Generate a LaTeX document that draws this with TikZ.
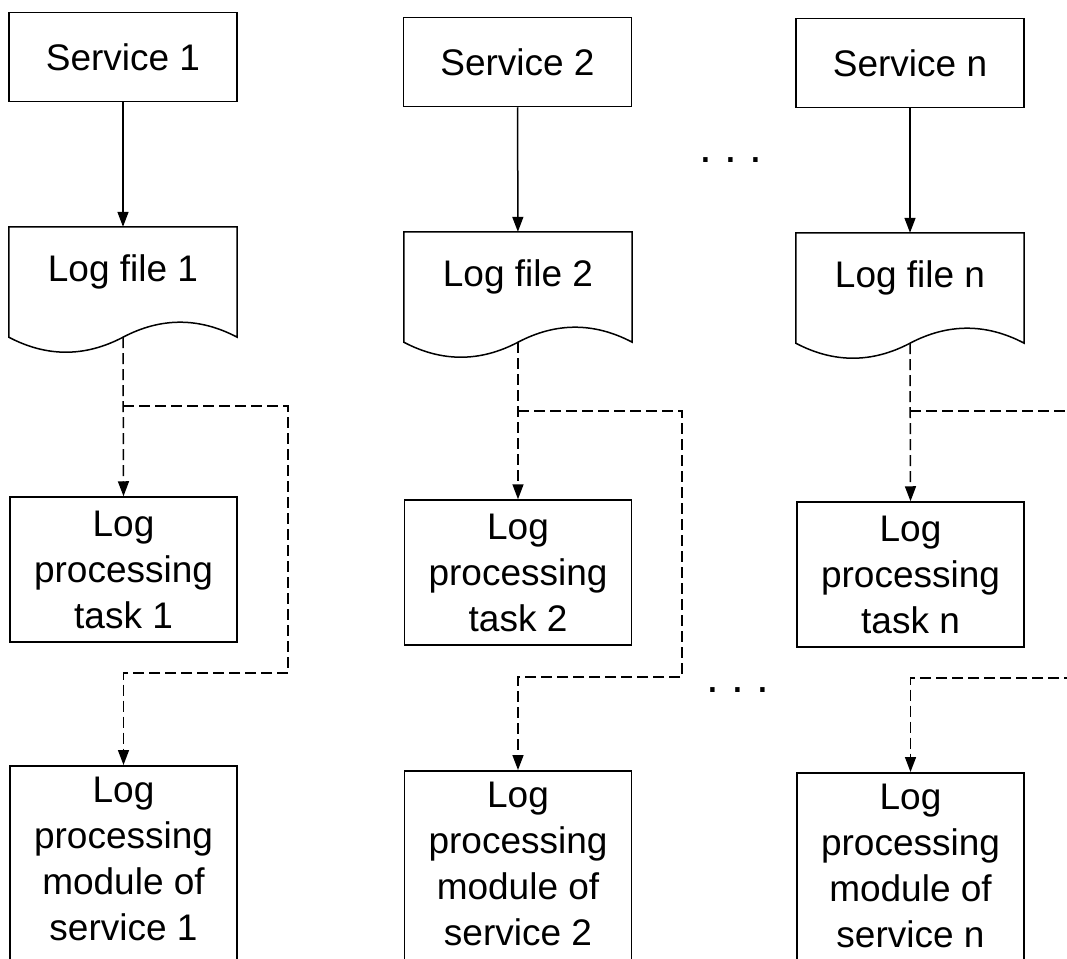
\documentclass[tikz,border=0pt]{standalone}
\usepackage{fontspec}
\setmainfont{Liberation Sans}
\usetikzlibrary{arrows.meta,calc}
\newcommand\docoutline[1]{%
  \draw[line width=1.5pt] (#1.north west) -- (#1.north east) -- (#1.south east)
    .. controls ($(#1.south east)+(-38,-20)$) and ($(#1.south)+(38,-20)$) .. (#1.south)
    .. controls ($(#1.south)+(-38,20)$) and ($(#1.south west)+(38,20)$) .. (#1.south west) -- cycle;}
\begin{document}
\begin{tikzpicture}[x=1pt,y=-1pt,
  txt/.style={font=\fontsize{37}{46}\selectfont, align=center},
  svcbox/.style={txt, draw, line width=1.5pt, minimum width=228pt, minimum height=89pt, inner sep=0pt},
  docbox/.style={minimum width=228pt, minimum height=110pt, inner sep=0pt},
  taskbox/.style={txt, draw, line width=1.5pt, minimum width=227pt, minimum height=145pt, inner sep=0pt},
  modbox/.style={txt, draw, line width=1.5pt, minimum width=227pt, anchor=north, inner xsep=0pt, inner ysep=11.5pt, text depth=200pt},
  arrowtip/.style={-{Triangle[length=15pt,width=11pt]}},
  solidarrow/.style={line width=1.5pt, arrowtip},
  dashline/.style={line width=1.5pt, dash pattern=on 11pt off 5pt},
  dasharrow/.style={dashline, arrowtip},
  dotsnode/.style={font=\fontsize{46}{50}\selectfont, inner sep=0pt},
]
\useasboundingbox (0,0) rectangle (1067,958);

% services
\node[svcbox] (s1) at (123,57) {Service 1};
\node[svcbox] (s2) at (517.5,62) {Service 2};
\node[svcbox] (sn) at (910,63) {Service n};

% log files
\node[docbox, label={[txt, yshift=10pt]center:Log file 1}] (lf1) at (123,282) {};
\node[docbox, label={[txt, yshift=10pt]center:Log file 2}] (lf2) at (518,287) {};
\node[docbox, label={[txt, yshift=10pt]center:Log file n}] (lfn) at (910,288) {};
\docoutline{lf1}
\docoutline{lf2}
\docoutline{lfn}

% tasks
\node[taskbox] (t1) at (123.5,569.5) {Log\\processing\\task 1};
\node[taskbox] (t2) at (518,572.5) {Log\\processing\\task 2};
\node[taskbox] (tn) at (910.5,574.5) {Log\\processing\\task n};

% modules
\node[modbox] (m1) at (123.5,765) {Log\\processing\\module of\\service 1};
\node[modbox] (m2) at (518,770) {Log\\processing\\module of\\service 2};
\node[modbox] (mn) at (910.5,772) {Log\\processing\\module of\\service n};

% dots
\node[dotsnode] (d1) at (731,160) {.\hspace{12pt}.\hspace{12pt}.};
\node[dotsnode] (d2) at (738,690) {.\hspace{12pt}.\hspace{12pt}.};

% solid arrows
\draw[solidarrow] (s1) -- (lf1);
\draw[solidarrow] (s2) -- (lf2);
\draw[solidarrow] (sn) -- (lfn);

% dashed arrows to tasks
\draw[dasharrow] (lf1.south) -- (t1.north);
\draw[dasharrow] (lf2.south) -- (t2.north);
\draw[dasharrow] (lfn.south) -- (tn.north);

% branches to modules
\coordinate (b1) at (123,406);
\coordinate (r1a) at (288,406);
\coordinate (r1b) at (288,673);
\draw[dasharrow] (b1) -- (r1a) -- (r1b) -| (m1.north);

\coordinate (b2) at (518,411);
\coordinate (r2a) at (682,411);
\coordinate (r2b) at (682,677);
\draw[dasharrow] (b2) -- (r2a) -- (r2b) -| (m2.north);

\coordinate (b3) at (910,411);
\coordinate (e3a) at (1075,411);
\coordinate (e3b) at (1075,678);
\draw[dashline] (b3) -- (e3a);
\draw[dasharrow] (e3b) -| (mn.north);
\end{tikzpicture}
\end{document}
